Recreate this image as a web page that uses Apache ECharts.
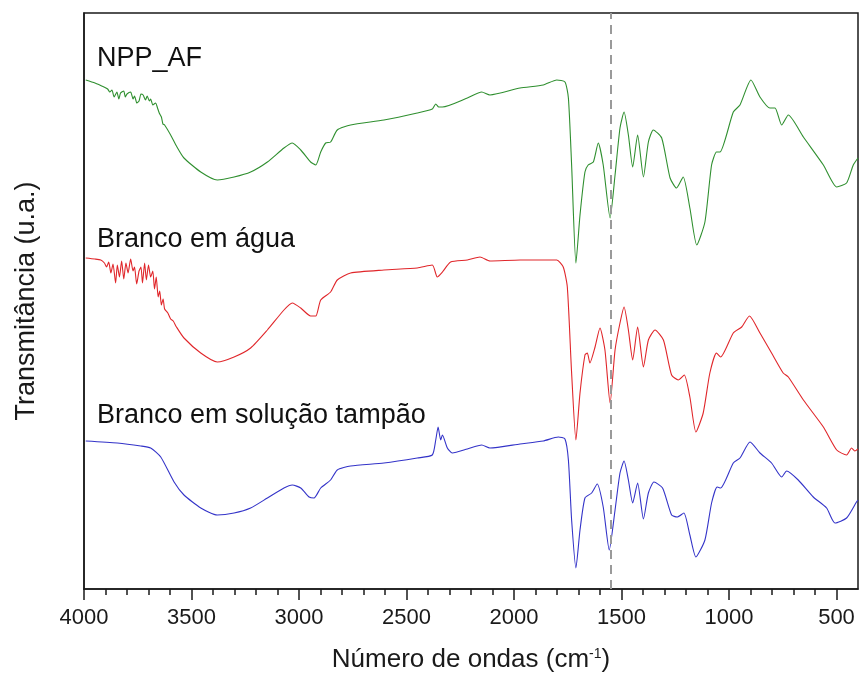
<!DOCTYPE html>
<html>
<head>
<meta charset="utf-8">
<title>Espectros FTIR</title>
<script src="https://cdn.jsdelivr.net/npm/echarts@6/dist/echarts.min.js"></script>
<style>
  html, body { margin: 0; padding: 0; background: #fff; }
  #chart { width: 860px; height: 681px; }
</style>
</head>
<body>
<div id="chart"></div>
<script>
// FTIR spectra: [wavenumber (cm-1), transmittance (arbitrary units, vertically offset)]
const npp_af = [
  [3992,509],[3949,506],[3907,502],[3890,500],[3880,497],[3870,499],[3860,492],[3847,497],[3838,490],[3830,496],
  [3815,498],[3808,492],[3800,495],[3783,497],[3772,490],[3765,493],[3754,486],[3744,488],[3735,495],[3725,494],
  [3714,489],[3706,493],[3696,488],[3690,490],[3680,484],[3667,486],[3658,481],[3650,476],[3640,472],[3633,465],
  [3625,464],[3597,454],[3570,443],[3535,431],[3457,417],[3380,409],[3302,412],[3225,417],[3147,427],[3070,441],
  [3031,446],[2992,439],[2946,427],[2922,424],[2899,437],[2876,446],[2853,447],[2822,459],[2760,464],[2605,469],
  [2450,476],[2380,480],[2364,485],[2350,482],[2333,482],[2217,491],[2150,497],[2112,494],[1972,501],[1864,504],
  [1801,509],[1763,507],[1747,491],[1732,424],[1712,326],[1693,374],[1670,417],[1655,424],[1631,427],[1608,446],
  [1585,424],[1553,371],[1530,414],[1507,461],[1488,477],[1468,454],[1448,422],[1425,454],[1398,412],[1375,447],
  [1352,459],[1313,451],[1274,411],[1244,401],[1213,412],[1182,381],[1150,344],[1112,367],[1081,424],[1058,437],
  [1042,437],[980,477],[949,484],[898,509],[856,492],[810,481],[786,481],[755,464],[724,474],[654,452],
  [561,424],[499,402],[453,406],[422,424],[400,431]
];

const brancoAgua = [
  [3992,331],[3950,330],[3922,329],[3905,326],[3895,322],[3885,327],[3875,316],[3865,325],[3853,306],[3845,324],
  [3835,312],[3825,328],[3815,310],[3805,326],[3795,316],[3783,330],[3772,318],[3765,322],[3755,305],[3744,318],
  [3735,322],[3728,306],[3718,326],[3710,309],[3700,324],[3690,312],[3680,318],[3672,300],[3664,312],[3655,292],
  [3648,298],[3640,284],[3632,290],[3625,280],[3610,276],[3597,270],[3585,268],[3570,262],[3535,251],[3457,236],
  [3380,227],[3302,232],[3225,241],[3147,259],[3070,279],[3031,286],[2992,281],[2946,273],[2922,273],[2899,289],
  [2853,297],[2822,309],[2760,316],[2605,319],[2450,321],[2380,324],[2357,312],[2333,317],[2295,327],[2217,329],
  [2158,332],[2112,328],[1972,329],[1864,329],[1801,329],[1771,322],[1752,302],[1732,216],[1712,149],[1693,196],
  [1670,234],[1659,236],[1647,226],[1623,242],[1600,261],[1577,239],[1553,186],[1530,239],[1507,266],[1488,282],
  [1468,259],[1448,229],[1425,262],[1398,222],[1375,249],[1344,259],[1305,249],[1267,214],[1236,209],[1208,214],
  [1182,192],[1154,157],[1120,176],[1089,216],[1058,236],[1039,232],[980,256],[941,262],[905,273],[856,256],
  [802,236],[748,216],[724,212],[654,189],[561,162],[499,139],[453,134],[430,141],[415,138],[400,140]
];

const brancoTampao = [
  [3992,148],[3845,146],[3736,143],[3690,141],[3643,132],[3581,107],[3535,94],[3457,81],[3380,74],[3302,76],
  [3225,81],[3147,91],[3070,101],[3031,104],[2992,101],[2953,92],[2930,91],[2899,101],[2853,109],[2822,119],
  [2760,123],[2605,126],[2450,131],[2380,134],[2364,149],[2353,162],[2341,149],[2333,154],[2310,141],[2287,136],
  [2217,140],[2150,144],[2112,141],[1972,145],[1864,148],[1794,152],[1763,150],[1747,129],[1732,69],[1712,21],
  [1693,59],[1670,91],[1639,96],[1613,105],[1585,82],[1557,39],[1530,79],[1507,116],[1488,128],[1468,109],
  [1448,86],[1425,106],[1398,70],[1375,96],[1349,107],[1309,101],[1267,74],[1241,72],[1210,76],[1182,54],
  [1154,32],[1112,49],[1081,86],[1055,102],[1039,101],[980,126],[949,131],[902,147],[856,136],[802,126],
  [755,112],[732,118],[678,109],[608,92],[546,81],[507,66],[453,71],[407,87],[400,89]
];

const seriesNames = ['NPP_AF', 'Branco em água', 'Branco em solução tampão'];
const majorTicks = [4000, 3500, 3000, 2500, 2000, 1500, 1000, 500];
const minorTicks = [4000, 3900, 3800, 3700, 3600, 3500, 3400, 3300, 3200, 3100, 3000, 2900, 2800, 2700, 2600,
  2500, 2400, 2300, 2200, 2100, 2000, 1900, 1800, 1700, 1600, 1500, 1400, 1300, 1200, 1100, 1000, 900, 800,
  700, 600, 500];
const referenceLine = 1550;

const FONT = '"Liberation Sans", Arial, sans-serif';
const INK = '#1a1a1a';
const chart = echarts.init(document.getElementById('chart'), null, { renderer: 'canvas' });

const xBase = {
  type: 'value', min: 400, max: 4000, inverse: true, position: 'bottom',
  gridIndex: 0, splitLine: { show: false }
};

const lineSeries = (name, data, color) => ({
  name, type: 'line', data, showSymbol: false, smooth: 0.2, xAxisIndex: 0, z: 3,
  lineStyle: { color, width: 1.1 }
});

const green = lineSeries(seriesNames[0], npp_af, '#2f8f2f');
green.markLine = {
  silent: true, symbol: 'none', label: { show: false },
  lineStyle: { color: '#9a9a9a', type: [9, 6], width: 2 },
  data: [{ xAxis: referenceLine }]
};

chart.setOption({
  animation: false,
  backgroundColor: '#fff',
  grid: {
    left: 84, right: 2, top: 13, bottom: 92,
    show: true, borderColor: INK, borderWidth: 1.5, backgroundColor: 'transparent'
  },
  xAxis: [
    Object.assign({}, xBase, {
      axisLine: { show: true, lineStyle: { color: INK, width: 1.5 } },
      axisTick: { show: true, customValues: majorTicks, length: 11, lineStyle: { color: INK, width: 1.5 } },
      axisLabel: {
        show: true, customValues: majorTicks, margin: 18, fontSize: 22, color: INK, fontFamily: FONT,
        formatter: v => String(v)
      },
      name: 'Número de ondas (cm{sup|-1})',
      nameLocation: 'middle', nameGap: 58,
      nameTextStyle: {
        fontSize: 26, color: INK, fontFamily: FONT,
        rich: { sup: { fontSize: 14, verticalAlign: 'top', padding: [0, 0, 12, 0], color: INK, fontFamily: FONT } }
      }
    }),
    Object.assign({}, xBase, {
      axisLine: { show: false },
      axisTick: { show: true, customValues: minorTicks, length: 6, lineStyle: { color: INK, width: 1.5 } },
      axisLabel: { show: false }
    })
  ],
  yAxis: {
    type: 'value', min: 0, max: 576,
    axisLine: { show: true, lineStyle: { color: INK, width: 1.5 } },
    axisTick: { show: false }, axisLabel: { show: false }, splitLine: { show: false },
    name: 'Transmitância (u.a.)', nameLocation: 'middle', nameGap: 44,
    nameTextStyle: { fontSize: 27, color: INK, fontFamily: FONT }
  },
  series: [
    green,
    lineSeries(seriesNames[1], brancoAgua, '#e0262a'),
    lineSeries(seriesNames[2], brancoTampao, '#3333c8')
  ],
  graphic: [
    { type: 'text', left: 97, top: 45, style: { text: seriesNames[0], fontSize: 27, fill: '#111', fontFamily: FONT } },
    { type: 'text', left: 97, top: 226, style: { text: seriesNames[1], fontSize: 27, fill: '#111', fontFamily: FONT } },
    { type: 'text', left: 97, top: 402, style: { text: seriesNames[2], fontSize: 27, fill: '#111', fontFamily: FONT } }
  ]
});
</script>
</body>
</html>
